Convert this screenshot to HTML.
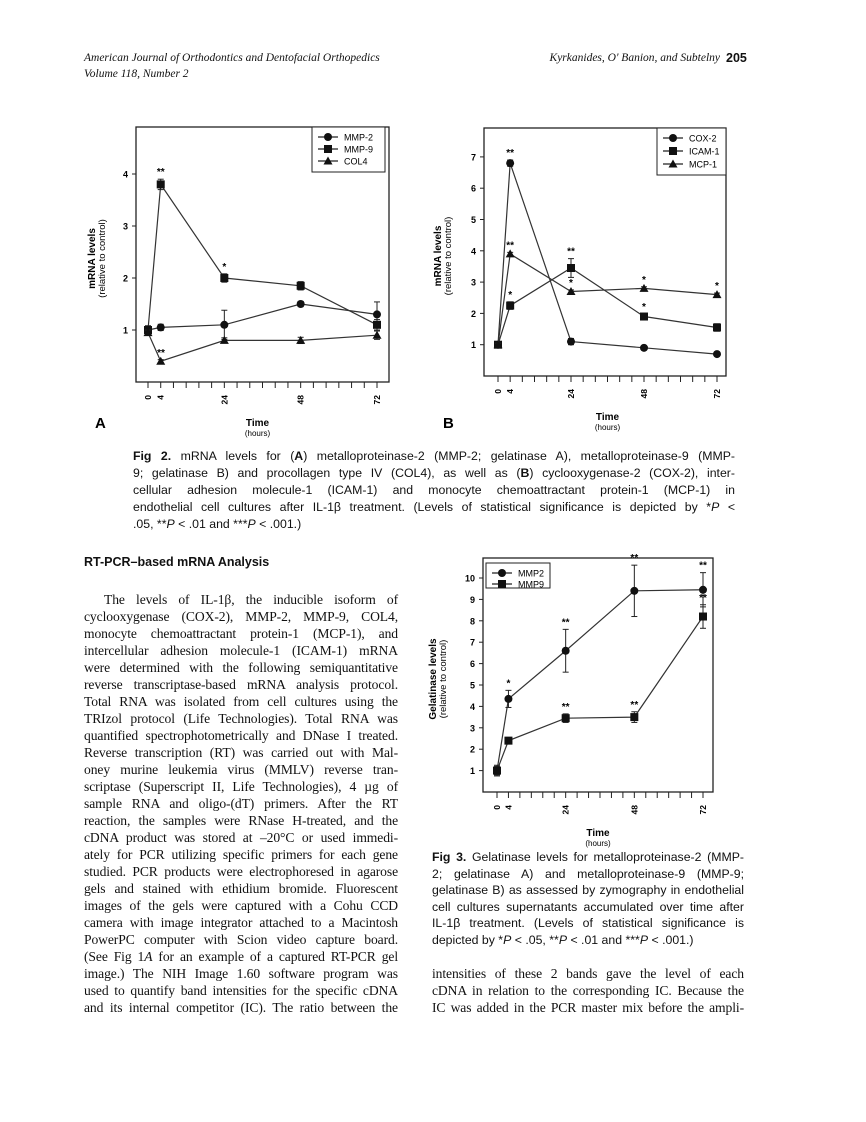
<!DOCTYPE html>
<html><head><meta charset="utf-8">
<style>
body{margin:0;background:#fff;}
#page{position:relative;width:866px;height:1122px;overflow:hidden;background:#fff;color:#111;}
.t{position:absolute;white-space:nowrap;}
.hd{font-family:"Liberation Serif",serif;font-style:italic;font-size:11.5px;}
.cap{font-family:"Liberation Sans",sans-serif;font-size:12.3px;text-align:justify;text-align-last:justify;white-space:nowrap;}
.body{font-family:"Liberation Serif",serif;font-size:13.6px;text-align:justify;text-align-last:justify;white-space:nowrap;letter-spacing:-0.1px;}
.last{text-align-last:left;}
svg text{font-family:"Liberation Sans",sans-serif;}
</style></head><body>
<div id="page">
<div class="t hd" style="left:84px;top:52px;">American Journal of Orthodontics and Dentofacial Orthopedics</div>
<div class="t hd" style="left:84px;top:68px;">Volume 118, Number 2</div>
<div class="t hd" style="right:146px;top:52px;">Kyrkanides, O' Banion, and Subtelny</div>
<div class="t" style="left:726px;top:51px;font:bold 12.5px 'Liberation Sans',sans-serif;">205</div>

<svg id="charts" width="866" height="1122" style="position:absolute;left:0;top:0;"></svg>

<div>
<div class="t cap" style="left:133px;top:449px;width:602px;"><b>Fig 2.</b> mRNA levels for (<b>A</b>) metalloproteinase-2 (MMP-2; gelatinase A), metalloproteinase-9 (MMP-</div>
<div class="t cap" style="left:133px;top:466px;width:602px;">9; gelatinase B) and procollagen type IV (COL4), as well as (<b>B</b>) cyclooxygenase-2 (COX-2), inter-</div>
<div class="t cap" style="left:133px;top:483px;width:602px;">cellular adhesion molecule-1 (ICAM-1) and monocyte chemoattractant protein-1 (MCP-1) in</div>
<div class="t cap" style="left:133px;top:500px;width:602px;">endothelial cell cultures after IL-1β treatment. (Levels of statistical significance is depicted by *<i>P</i> &lt;</div>
<div class="t cap last" style="left:133px;top:517px;">.05, **<i>P</i> &lt; .01 and ***<i>P</i> &lt; .001.)</div>
</div>

<div class="t" style="left:84px;top:555px;font:bold 12.5px 'Liberation Sans',sans-serif;">RT-PCR–based mRNA Analysis</div>

<div>
<div class="t body" style="left:104px;top:592px;width:294px;">The levels of IL-1β, the inducible isoform of</div>
<div class="t body" style="left:84px;top:609px;width:314px;">cyclooxygenase (COX-2), MMP-2, MMP-9, COL4,</div>
<div class="t body" style="left:84px;top:626px;width:314px;">monocyte chemoattractant protein-1 (MCP-1), and</div>
<div class="t body" style="left:84px;top:643px;width:314px;">intercellular adhesion molecule-1 (ICAM-1) mRNA</div>
<div class="t body" style="left:84px;top:660px;width:314px;">were determined with the following semiquantitative</div>
<div class="t body" style="left:84px;top:677px;width:314px;">reverse transcriptase-based mRNA analysis protocol.</div>
<div class="t body" style="left:84px;top:694px;width:314px;">Total RNA was isolated from cell cultures using the</div>
<div class="t body" style="left:84px;top:711px;width:314px;">TRIzol protocol (Life Technologies). Total RNA was</div>
<div class="t body" style="left:84px;top:728px;width:314px;">quantified spectrophotometrically and DNase I treated.</div>
<div class="t body" style="left:84px;top:745px;width:314px;">Reverse transcription (RT) was carried out with Mal-</div>
<div class="t body" style="left:84px;top:762px;width:314px;">oney murine leukemia virus (MMLV) reverse tran-</div>
<div class="t body" style="left:84px;top:779px;width:314px;">scriptase (Superscript II, Life Technologies), 4 µg of</div>
<div class="t body" style="left:84px;top:796px;width:314px;">sample RNA and oligo-(dT) primers. After the RT</div>
<div class="t body" style="left:84px;top:813px;width:314px;">reaction, the samples were RNase H-treated, and the</div>
<div class="t body" style="left:84px;top:830px;width:314px;">cDNA product was stored at –20°C or used immedi-</div>
<div class="t body" style="left:84px;top:847px;width:314px;">ately for PCR utilizing specific primers for each gene</div>
<div class="t body" style="left:84px;top:864px;width:314px;">studied. PCR products were electrophoresed in agarose</div>
<div class="t body" style="left:84px;top:881px;width:314px;">gels and stained with ethidium bromide. Fluorescent</div>
<div class="t body" style="left:84px;top:898px;width:314px;">images of the gels were captured with a Cohu CCD</div>
<div class="t body" style="left:84px;top:915px;width:314px;">camera with image integrator attached to a Macintosh</div>
<div class="t body" style="left:84px;top:932px;width:314px;">PowerPC computer with Scion video capture board.</div>
<div class="t body" style="left:84px;top:949px;width:314px;">(See Fig 1<i>A</i> for an example of a captured RT-PCR gel</div>
<div class="t body" style="left:84px;top:966px;width:314px;">image.) The NIH Image 1.60 software program was</div>
<div class="t body" style="left:84px;top:983px;width:314px;">used to quantify band intensities for the specific cDNA</div>
<div class="t body" style="left:84px;top:1000px;width:314px;">and its internal competitor (IC). The ratio between the</div>
</div>

<div>
<div class="t cap" style="left:432px;top:850px;width:312px;"><b>Fig 3.</b> Gelatinase levels for metalloproteinase-2 (MMP-</div>
<div class="t cap" style="left:432px;top:867px;width:312px;">2; gelatinase A) and metalloproteinase-9 (MMP-9;</div>
<div class="t cap" style="left:432px;top:883px;width:312px;">gelatinase B) as assessed by zymography in endothelial</div>
<div class="t cap" style="left:432px;top:900px;width:312px;">cell cultures supernatants accumulated over time after</div>
<div class="t cap" style="left:432px;top:916px;width:312px;">IL-1β treatment. (Levels of statistical significance is</div>
<div class="t cap last" style="left:432px;top:933px;">depicted by *<i>P</i> &lt; .05, **<i>P</i> &lt; .01 and ***<i>P</i> &lt; .001.)</div>
</div>

<div>
<div class="t body" style="left:432px;top:966px;width:312px;">intensities of these 2 bands gave the level of each</div>
<div class="t body" style="left:432px;top:983px;width:312px;">cDNA in relation to the corresponding IC. Because the</div>
<div class="t body" style="left:432px;top:1000px;width:312px;">IC was added in the PCR master mix before the ampli-</div>
</div>
</div>

<script>
// ---- data ----
const hours = [0, 4, 24, 48, 72];
const xTickLabels = ["0", "4", "24", "48", "72"];
// Fig 2A
const mmp2A = [1.0, 1.05, 1.1, 1.5, 1.3];
const mmp2AErr = [0.08, 0.06, 0.28, 0.05, 0.24];
const mmp9A = [1.0, 3.8, 2.0, 1.85, 1.1];
const mmp9AErr = [0.08, 0.1, 0.08, 0.08, 0.1];
const col4A = [0.95, 0.4, 0.8, 0.8, 0.9];
const col4AErr = [0.05, 0.03, 0.05, 0.06, 0.08];
const yTicksA = [1, 2, 3, 4];
const starsA = [["", "**", "*", "", ""], ["", "**", "", "", ""]];
// Fig 2B
const cox2B = [1.0, 6.8, 1.1, 0.9, 0.7];
const cox2BErr = [0.05, 0.1, 0.1, 0.05, 0.05];
const icam1B = [1.0, 2.25, 3.45, 1.9, 1.55];
const icam1BErr = [0.05, 0.12, 0.3, 0.08, 0.12];
const mcp1B = [1.0, 3.9, 2.7, 2.8, 2.6];
const mcp1BErr = [0.05, 0.05, 0.05, 0.05, 0.05];
const yTicksB = [1, 2, 3, 4, 5, 6, 7];
// Fig 3
const mmp2C = [1.0, 4.35, 6.6, 9.4, 9.45];
const mmp2CErr = [0.25, 0.4, 1.0, 1.2, 0.8];
const mmp9C = [1.0, 2.4, 3.45, 3.5, 8.2];
const mmp9CErr = [0.2, 0.15, 0.2, 0.25, 0.55];
const yTicksC = [1, 2, 3, 4, 5, 6, 7, 8, 9, 10];

const NS = "http://www.w3.org/2000/svg";
const svg = document.getElementById("charts");
function el(tag, attrs, parent) {
  const e = document.createElementNS(NS, tag);
  for (const k in attrs) e.setAttribute(k, attrs[k]);
  (parent || svg).appendChild(e);
  return e;
}
function marker(g, shape, x, y) {
  if (shape === "circle") return el("circle", {cx: x, cy: y, r: 4, fill: "#111"}, g);
  if (shape === "square") return el("rect", {x: x - 4, y: y - 4, width: 8, height: 8, fill: "#111"}, g);
  return el("polygon", {points: `${x},${y - 4.5} ${x + 4.5},${y + 3.5} ${x - 4.5},${y + 3.5}`, fill: "#111"}, g);
}

function chart(cfg) {
  const g = el("g", {});
  
  
  const xs = h => cfg.x0 + (h / 72) * (cfg.x72 - cfg.x0);
  const ys = v => cfg.bottom - v * cfg.unit;
  // frame
  const fr = el("rect", {x: cfg.left, y: cfg.top, width: cfg.right - cfg.left, height: cfg.bottom - cfg.top, fill: "none", stroke: "#222", "stroke-width": 1.3}, g);
  
  
  // y ticks
  cfg.yTicks.forEach(v => {
    el("line", {x1: cfg.left - 4, x2: cfg.left, y1: ys(v), y2: ys(v), stroke: "#222"}, g);
    const t = el("text", {x: cfg.left - 8, y: ys(v) + 3.5, "font-size": 9, "font-weight": "bold", "text-anchor": "end"}, g);
    t.textContent = v;
    
    
  });
  // x ticks every 4 hours
  for (let h = 0; h <= 72; h += 4) {
    el("line", {x1: xs(h), x2: xs(h), y1: cfg.bottom, y2: cfg.bottom + 6, stroke: "#222"}, g);
  }
  hours.forEach((h, i) => {
    const tx = xs(h) + 3, ty = cfg.bottom + 13;
    const t = el("text", {x: tx, y: ty, "font-size": 8.5, "font-weight": "bold", "text-anchor": "end", transform: `rotate(-90 ${tx} ${ty})`}, g);
    t.textContent = xTickLabels[i];
    
    
  });
  // axis titles
  const xt = el("text", {x: (cfg.x0 + cfg.x72) / 2 + cfg.titleDx, y: cfg.bottom + 44, "font-size": 10, "font-weight": "bold", "text-anchor": "middle"}, g);
  xt.textContent = "Time";
  
  
  const xh = el("text", {x: (cfg.x0 + cfg.x72) / 2 + cfg.titleDx, y: cfg.bottom + 54, "font-size": 8, "text-anchor": "middle"}, g);
  xh.textContent = "(hours)";
  
  
  const cy = (cfg.top + cfg.bottom) / 2 + 4;
  const yt = el("text", {x: cfg.ylx, y: cy, "font-size": 10, "font-weight": "bold", "text-anchor": "middle", transform: `rotate(-90 ${cfg.ylx} ${cy})`}, g);
  yt.textContent = cfg.ytitle;
  
  
  const yu = el("text", {x: cfg.ylx + 10, y: cy, "font-size": 9.5, "text-anchor": "middle", transform: `rotate(-90 ${cfg.ylx + 10} ${cy})`}, g);
  yu.textContent = "(relative to control)";
  
  
  // series
  cfg.series.forEach(s => {
    const sg = el("g", {}, g);
    
    
    const pts = s.vals.map((v, i) => `${xs(hours[i])},${ys(v)}`).join(" ");
    el("polyline", {points: pts, fill: "none", stroke: "#333", "stroke-width": 1.2}, sg);
    s.vals.forEach((v, i) => {
      const x = xs(hours[i]), e = s.err[i] * cfg.unit;
      el("line", {x1: x, x2: x, y1: ys(v) - e, y2: ys(v) + e, stroke: "#222"}, sg);
      el("line", {x1: x - 3, x2: x + 3, y1: ys(v) - e, y2: ys(v) - e, stroke: "#222"}, sg);
      el("line", {x1: x - 3, x2: x + 3, y1: ys(v) + e, y2: ys(v) + e, stroke: "#222"}, sg);
      const m = marker(sg, s.shape, x, ys(v));
      
      
      if (s.stars && s.stars[i]) {
        const st = el("text", {x: x, y: ys(v) - e - 4, "font-size": 10, "font-weight": "bold", "text-anchor": "middle"}, sg);
        st.textContent = s.stars[i];
      }
    });
  });
  // legend
  const lg = el("g", {}, g);
  
  
  const L = cfg.legend;
  el("rect", {x: L.x, y: L.y, width: L.w, height: L.h, fill: "#fff", stroke: "#222"}, lg);
  cfg.series.forEach((s, i) => {
    const ly = L.y + 10 + i * L.step;
    el("line", {x1: L.x + 6, x2: L.x + 26, y1: ly, y2: ly, stroke: "#222", "stroke-width": 1.2}, lg);
    marker(lg, s.shape, L.x + 16, ly);
    const t = el("text", {x: L.x + 32, y: ly + 3.5, "font-size": 9}, lg);
    t.textContent = s.label;
    
    
  });
  if (cfg.letter) {
    const lt = el("text", {x: cfg.letter[0], y: cfg.letter[1], "font-size": 15, "font-weight": "bold"}, g);
    lt.textContent = cfg.letter[2];
    
    
  }
}

chart({name: "chart-fig2a", left: 136, right: 389, top: 127, bottom: 382, x0: 148, x72: 377, unit: 52,
  yTicks: yTicksA, ytitle: "mRNA levels", ylx: 95, titleDx: -5,
  legend: {x: 312, y: 127, w: 73, h: 45, step: 12},
  letter: [95, 428, "A"],
  series: [
    {label: "MMP-2", shape: "circle", vals: mmp2A, err: mmp2AErr},
    {label: "MMP-9", shape: "square", vals: mmp9A, err: mmp9AErr, stars: starsA[0]},
    {label: "COL4", shape: "triangle", vals: col4A, err: col4AErr}
  ]});
// COL4 ** below
(function(){ const t = el("text", {x: 161, y: 356, "font-size": 10, "font-weight": "bold", "text-anchor": "middle"}); t.textContent = "**"; })();

chart({name: "chart-fig2b", left: 484, right: 726, top: 128, bottom: 376, x0: 498, x72: 717, unit: 31.3,
  yTicks: yTicksB, ytitle: "mRNA levels", ylx: 441, titleDx: 0,
  legend: {x: 657, y: 128, w: 69, h: 47, step: 13},
  letter: [443, 428, "B"],
  series: [
    {label: "COX-2", shape: "circle", vals: cox2B, err: cox2BErr, stars: ["", "**", "", "", ""]},
    {label: "ICAM-1", shape: "square", vals: icam1B, err: icam1BErr, stars: ["", "*", "**", "*", ""]},
    {label: "MCP-1", shape: "triangle", vals: mcp1B, err: mcp1BErr, stars: ["", "**", "*", "*", "*"]}
  ]});

chart({name: "chart-fig3", left: 483, right: 713, top: 558, bottom: 792, x0: 497, x72: 703, unit: 21.4,
  yTicks: yTicksC, ytitle: "Gelatinase levels", ylx: 436, titleDx: -2,
  legend: {x: 486, y: 563, w: 64, h: 25, step: 11},
  series: [
    {label: "MMP2", shape: "circle", vals: mmp2C, err: mmp2CErr, stars: ["", "*", "**", "**", "**"]},
    {label: "MMP9", shape: "square", vals: mmp9C, err: mmp9CErr, stars: ["", "", "**", "**", "**"]}
  ]});
</script>
</body></html>
